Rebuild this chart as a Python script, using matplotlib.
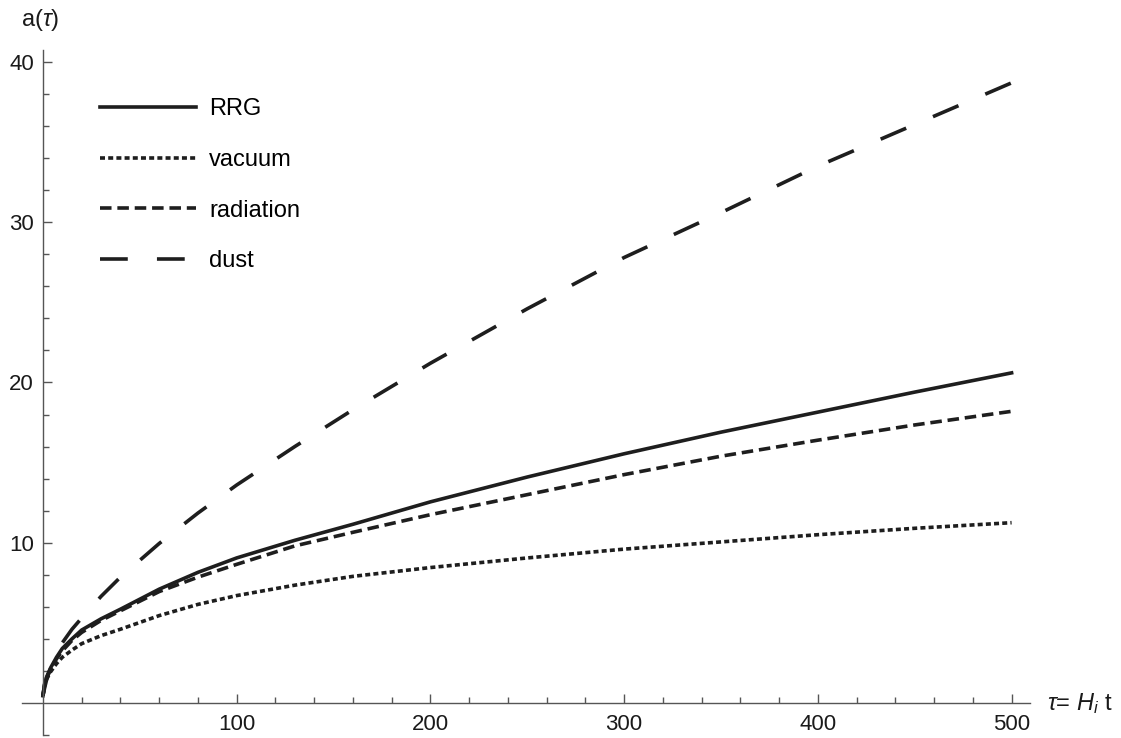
# Scale factor a(tau) for RRG compared with the vacuum, radiation and dust cases

# IMPORTS --------------------------------------------------------------------------------------------------------------
import numpy as np
import matplotlib
matplotlib.use('Agg')
import matplotlib.pyplot as plt
from matplotlib.ticker import MultipleLocator, FixedLocator


# DATA -----------------------------------------------------------------------------------------------------------------
tau = [0, 1, 2, 4, 7, 10, 15, 20, 30, 40, 60, 80, 100, 130, 160, 200, 250, 300, 350, 400, 450, 500]

a_rrg = [0.45, 1.3, 1.65, 2.2, 2.85, 3.4, 4.0, 4.55, 5.25, 5.85, 7.1, 8.15, 9.05, 10.15, 11.15, 12.55,
         14.1, 15.55, 16.9, 18.15, 19.4, 20.6]
a_vacuum = [0.45, 1.2, 1.5, 1.95, 2.45, 2.85, 3.3, 3.7, 4.2, 4.6, 5.45, 6.15, 6.7, 7.35, 7.9, 8.45,
            9.05, 9.6, 10.05, 10.5, 10.9, 11.25]
a_radiation = [0.45, 1.25, 1.6, 2.1, 2.75, 3.25, 3.9, 4.4, 5.15, 5.75, 6.95, 7.85, 8.65, 9.8, 10.65, 11.75,
               13.0, 14.25, 15.4, 16.4, 17.35, 18.2]
a_dust = [0.45, 1.0, 1.5, 2.2, 3.0, 3.75, 4.6, 5.3, 6.65, 7.85, 9.95, 11.85, 13.6, 16.0, 18.3, 21.2,
          24.6, 27.8, 30.6, 33.5, 36.1, 38.7]

labels = ['RRG', 'vacuum', 'radiation', 'dust']


# STYLE ----------------------------------------------------------------------------------------------------------------
plt.rcParams['font.family'] = ['Liberation Sans', 'DejaVu Sans']
plt.rcParams['mathtext.fontset'] = 'custom'
plt.rcParams['mathtext.rm'] = 'Liberation Sans'
plt.rcParams['mathtext.it'] = 'Liberation Sans:italic'
plt.rcParams['lines.scale_dashes'] = False

line_color = '#1e1e1e'
axis_color = '#555555'
text_color = '#1a1a1a'
lw = 2.6


# FIGURE ---------------------------------------------------------------------------------------------------------------
def scale_factor_plot():
    fig = plt.figure(figsize=(11.21, 7.38), dpi=100)
    ax = fig.add_axes([22 / 1121, 3 / 738, 1008 / 1121, 685 / 738])

    ax.plot(tau, a_rrg, color=line_color, lw=lw, label=labels[0])
    ax.plot(tau, a_vacuum, color=line_color, lw=lw, dashes=(3.6, 2.3), label=labels[1])
    ax.plot(tau, a_radiation, color=line_color, lw=lw, dashes=(8.3, 4.2), label=labels[2])
    ax.plot(tau, a_dust, color=line_color, lw=lw, dashes=(20, 21), label=labels[3])

    ax.set_xlim(-10.8, 509.5)
    ax.set_ylim(-2.0, 40.75)

    # axes through the origin, Mathematica style
    for side in ['top', 'right']:
        ax.spines[side].set_visible(False)
    for side in ['left', 'bottom']:
        ax.spines[side].set_position(('data', 0))
        ax.spines[side].set_color(axis_color)
        ax.spines[side].set_linewidth(1.0)

    ax.set_xticks([100, 200, 300, 400, 500])
    ax.xaxis.set_minor_locator(FixedLocator([t for t in range(20, 501, 20) if t % 100 != 0]))
    ax.set_yticks([10, 20, 30, 40])
    ax.yaxis.set_minor_locator(FixedLocator([v for v in range(-2, 41, 2) if v % 10 != 0]))

    ax.tick_params(which='both', direction='in', color=axis_color, width=1.0, labelsize=16,
                   labelcolor=text_color)
    ax.tick_params(which='major', length=6.5)
    ax.tick_params(which='minor', length=4.0)
    ax.tick_params(axis='y', pad=6.5)
    ax.tick_params(axis='x', pad=8)

    # axis labels
    fig.text(40 / 1121, 1 - 20 / 738, r'a($\tau$)', fontsize=17, ha='center', va='center', color=text_color)
    fig.text(1047 / 1121, 1 - 704 / 738, r'$\tau$= $H_i$ t', fontsize=17, ha='left', va='center',
             color=text_color)

    ax.legend(loc='upper left', bbox_to_anchor=(100 / 1121, 1 - 98 / 738), bbox_transform=fig.transFigure,
              frameon=False, fontsize=17, handlelength=4.05, handletextpad=0.58, labelspacing=1.22,
              borderpad=0, borderaxespad=0)

    fig.savefig('out.png', dpi=100)


# EXECUTION ------------------------------------------------------------------------------------------------------------
if __name__ == "__main__":
    scale_factor_plot()
